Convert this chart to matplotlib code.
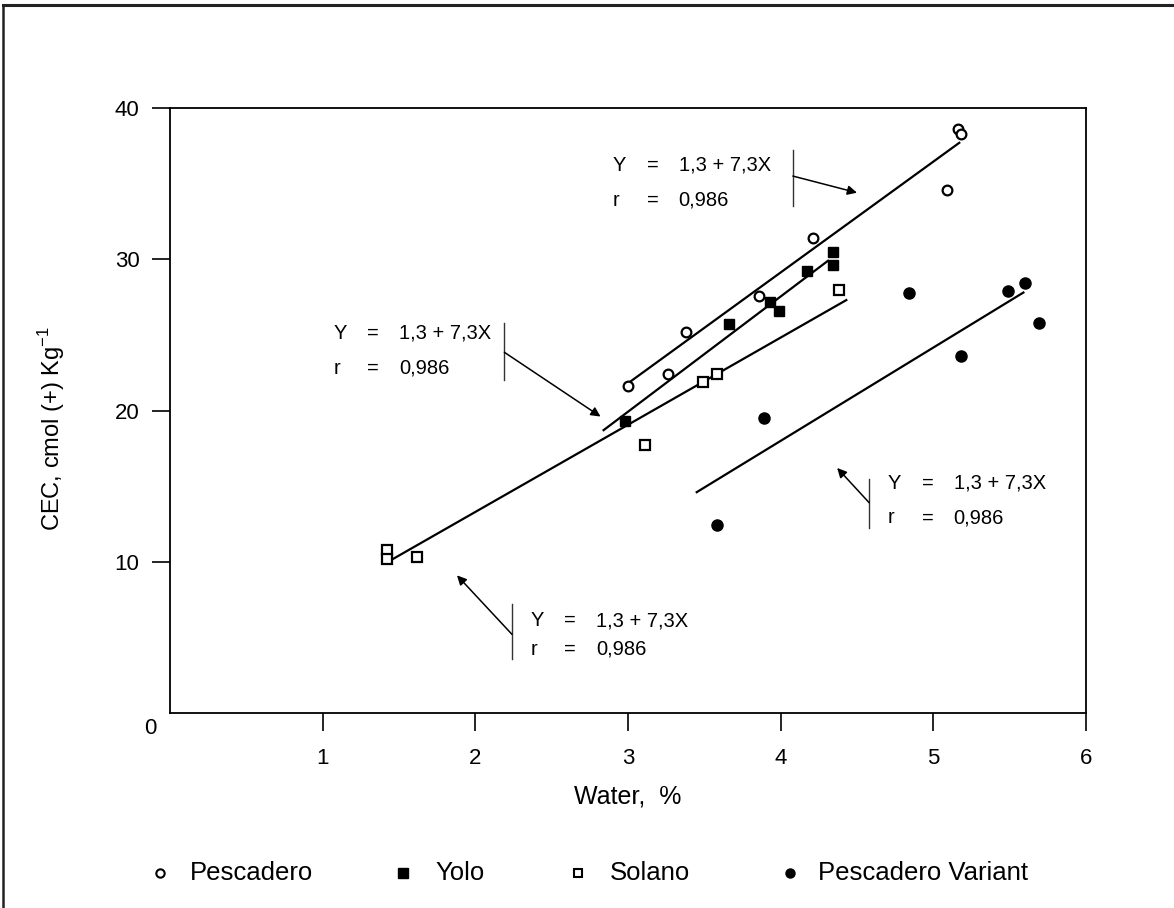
import matplotlib
matplotlib.use("Agg")
import matplotlib.pyplot as plt
from matplotlib.lines import Line2D

plt.rcParams['font.family'] = ['Liberation Sans', 'DejaVu Sans']

# ---------------- data ----------------
series_names = ["Pescadero", "Yolo", "Solano", "Pescadero Variant"]

pescadero_x = [3.00, 3.26, 3.38, 3.86, 4.21, 5.09, 5.16, 5.18]
pescadero_y = [21.6, 22.4, 25.2, 27.6, 31.4, 34.6, 38.6, 38.3]

yolo_x = [2.98, 3.66, 3.93, 3.99, 4.17, 4.34, 4.34]
yolo_y = [19.3, 25.7, 27.2, 26.6, 29.2, 30.5, 29.6]

solano_x = [1.42, 1.42, 1.62, 3.11, 3.49, 3.58, 4.38]
solano_y = [10.8, 10.2, 10.3, 17.7, 21.9, 22.4, 28.0]

variant_x = [3.58, 3.89, 4.84, 5.18, 5.49, 5.60, 5.69]
variant_y = [12.4, 19.5, 27.8, 23.6, 27.9, 28.4, 25.8]

# fitted-line end points (x0, x1), (y0, y1)
pescadero_fit_x = [3.00, 5.17]
pescadero_fit_y = [21.8, 37.7]
yolo_fit_x = [2.84, 4.31]
yolo_fit_y = [18.7, 29.9]
solano_fit_x = [1.42, 4.43]
solano_fit_y = [9.95, 27.3]
variant_fit_x = [3.45, 5.59]
variant_fit_y = [14.6, 27.8]

x_ticks = [1, 2, 3, 4, 5, 6]
y_ticks = [10, 20, 30, 40]

eq_text = "1,3 + 7,3X"
r_text = "0,986"

# ---------------- figure ----------------
fig = plt.figure(figsize=(11.74, 9.08), dpi=100)
ax = fig.add_axes([170/1174, 1-713/908, (1086-170)/1174, (713-108)/908])
ax.set_xlim(0, 6)
ax.set_ylim(0, 40)

for s in ax.spines.values():
    s.set_linewidth(1.3)
    s.set_color('black')

ax.set_xticks(x_ticks)
ax.set_xticklabels([str(t) for t in x_ticks])
ax.set_yticks(y_ticks)
ax.set_yticklabels([str(t) for t in y_ticks])
ax.tick_params(axis='x', direction='out', length=13, width=1.2, pad=12, labelsize=16)
ax.tick_params(axis='y', direction='out', length=13, width=1.2, pad=9, labelsize=16)

ax.text(-0.13, -1.05, "0", ha='center', va='center', fontsize=16)

ax.set_xlabel("Water,  %", fontsize=18)
ax.xaxis.set_label_coords(0.5, -0.118)
ax.set_ylabel("CEC, cmol (+) Kg$^{\\mathregular{-1}}$", fontsize=17)
ax.yaxis.set_label_coords(-0.112, 0.47)

# fit lines
line_kw = dict(color='black', lw=1.6, zorder=2)
ax.plot(pescadero_fit_x, pescadero_fit_y, **line_kw)
ax.plot(yolo_fit_x, yolo_fit_y, **line_kw)
ax.plot(solano_fit_x, solano_fit_y, **line_kw)
ax.plot(variant_fit_x, variant_fit_y, **line_kw)

# points
ax.plot(pescadero_x, pescadero_y, 'o', ms=7, mfc='white', mec='black', mew=1.6, zorder=3)
ax.plot(yolo_x, yolo_y, 's', ms=7, mfc='black', mec='black', zorder=3)
ax.plot(solano_x, solano_y, 's', ms=7, mfc='white', mec='black', mew=1.6, zorder=3)
ax.plot(variant_x, variant_y, 'o', ms=8, mfc='black', mec='black', zorder=3)

# equation annotations (layout: text x, Y row, r row, bar x, bar y0, bar y1,
# arrow start y, arrow head x, arrow head y)
annotations = [
    (2.90, 36.2, 33.9, 4.08, 37.2, 33.5, 35.5, 4.50, 34.4),
    (1.07, 25.1, 22.8, 2.19, 25.8, 22.0, 23.85, 2.82, 19.6),
    (4.70, 15.2, 12.9, 4.58, 15.5, 12.25, 13.9, 4.37, 16.2),
    (2.36, 6.1, 4.2, 2.24, 7.2, 3.6, 5.2, 1.88, 9.1),
]
fs_eq = 14.5
for tx, yrow, rrow, bx, by0, by1, ay, hx, hy in annotations:
    for lab, val, yy in (("Y", eq_text, yrow), ("r", r_text, rrow)):
        ax.annotate(lab, xy=(tx, yy), xytext=(0, 0), textcoords='offset pixels',
                    ha='left', va='center', fontsize=fs_eq)
        ax.annotate("=", xy=(tx, yy), xytext=(34, 0), textcoords='offset pixels',
                    ha='left', va='center', fontsize=fs_eq)
        ax.annotate(val, xy=(tx, yy), xytext=(66, 0), textcoords='offset pixels',
                    ha='left', va='center', fontsize=fs_eq)
    ax.plot([bx, bx], [by0, by1], color='#333333', lw=1.0, zorder=2)
    ax.annotate("", xy=(hx, hy), xytext=(bx, ay),
                arrowprops=dict(arrowstyle='-|>', color='black', lw=1.1,
                                mutation_scale=14, shrinkA=0, shrinkB=0))

# legend row (manual)
leg_y = 1 - 873/908
legend_items = [
    (160, 190, dict(marker='o', ms=6, mfc='white', mec='black', mew=1.5)),
    (403, 435, dict(marker='s', ms=7, mfc='black', mec='black')),
    (578, 610, dict(marker='s', ms=6, mfc='white', mec='black', mew=1.5)),
    (790, 818, dict(marker='o', ms=6.5, mfc='black', mec='black')),
]
for name, (mx, tx, mk) in zip(series_names, legend_items):
    fig.add_artist(Line2D([mx/1174], [leg_y], linestyle='none',
                          transform=fig.transFigure, **mk))
    fig.text(tx/1174, leg_y, name, ha='left', va='center', fontsize=18.5)

# outer frame (top and left edge of the scan)
fig.add_artist(Line2D([3/1174, 1.0], [1-5/908, 1-5/908], transform=fig.transFigure,
                      color='#222222', lw=2.2))
fig.add_artist(Line2D([3/1174, 3/1174], [0.0, 1-5/908], transform=fig.transFigure,
                      color='#222222', lw=1.8))

fig.savefig("out.png", dpi=100)
